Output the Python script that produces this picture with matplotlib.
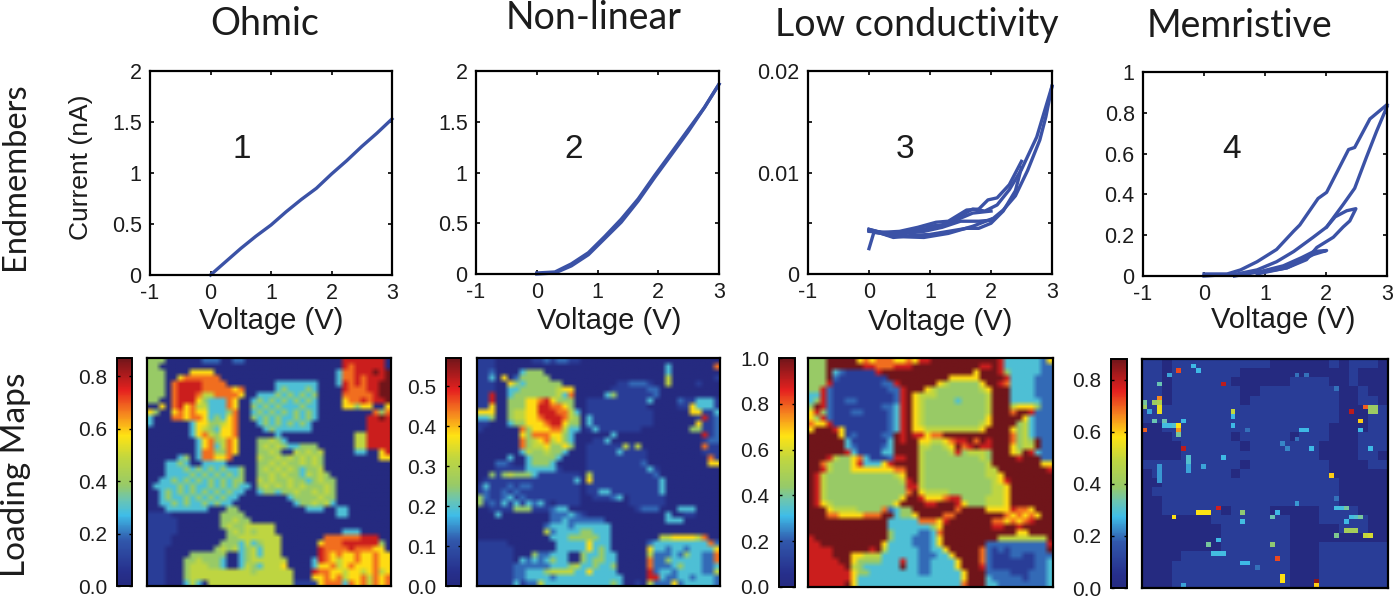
## Endmember I-V curves on top, loading maps below

import numpy as np
import matplotlib
matplotlib.use('Agg')
import matplotlib.pyplot as plt
from matplotlib.colors import LinearSegmentedColormap

W, H = 1400, 601

titles = ['Ohmic', 'Non-linear', 'Low conductivity', 'Memristive']
curve_numbers = ['1', '2', '3', '4']
y_limits = [2, 2, 0.02, 1]
y_ticks = [[0, 0.5, 1, 1.5, 2], [0, 0.5, 1, 1.5, 2], [0, 0.01, 0.02], [0, 0.2, 0.4, 0.6, 0.8, 1]]
y_tick_labels = [['0', '0.5', '1', '1.5', '2'], ['0', '0.5', '1', '1.5', '2'], ['0', '0.01', '0.02'],
                 ['0', '0.2', '0.4', '0.6', '0.8', '1']]

## I-V sweeps, each entry is one strand (voltage, current)

ohmic = [([0, 0.25, 0.5, 0.75, 1, 1.25, 1.5, 1.75, 2, 2.25, 2.5, 2.75, 3],
          [0, 0.13, 0.26, 0.38, 0.49, 0.62, 0.74, 0.85, 0.99, 1.12, 1.26, 1.39, 1.53])]

nonlinear = [([0, 0.3, 0.57, 0.85, 1.12, 1.39, 1.67, 1.94, 2.21, 2.49, 2.76, 3],
              [0.01, 0.02, 0.10, 0.21, 0.37, 0.54, 0.74, 0.97, 1.19, 1.42, 1.64, 1.87]),
             ([3, 2.76, 2.49, 2.21, 1.94, 1.67, 1.39, 1.12, 0.85, 0.57, 0.3, 0],
              [1.87, 1.64, 1.40, 1.17, 0.95, 0.72, 0.51, 0.35, 0.19, 0.08, 0.01, 0.0])]

lowcond = [([0, 0.08, 0.2, 0.4, 0.7, 1, 1.3, 1.6, 1.8, 2, 2.2, 2.4, 2.5],
            [0.0025, 0.0041, 0.0040, 0.0036, 0.0038, 0.0039, 0.0042, 0.0045, 0.0045, 0.0050, 0.0062, 0.0082, 0.0105]),
           ([2.5, 2.3, 2.1, 1.95, 1.8, 1.6, 1.3, 1.1, 0.8, 0.5, 0.2, 0],
            [0.0111, 0.0088, 0.0075, 0.0073, 0.0064, 0.0063, 0.0052, 0.0051, 0.0046, 0.0042, 0.0041, 0.0044]),
           ([0, 0.3, 0.6, 0.9, 1.2, 1.5, 1.8, 2, 2.2, 2.4, 2.6, 2.8, 2.9, 3],
            [0.0044, 0.0039, 0.0040, 0.0042, 0.0046, 0.0052, 0.0052, 0.0053, 0.0063, 0.0077, 0.0102, 0.0132, 0.0155, 0.0185]),
           ([3, 2.9, 2.75, 2.5, 2.3, 2.1, 1.9, 1.7, 1.4, 1.2, 0.9, 0.6, 0.3, 0],
            [0.0185, 0.0165, 0.0135, 0.0103, 0.0083, 0.0068, 0.0062, 0.0064, 0.0054, 0.0048, 0.0047, 0.0041, 0.0040, 0.0043]),
           ([0, 0.4, 0.9, 1.3, 1.7, 2],
            [0.0043, 0.0037, 0.0036, 0.0040, 0.0047, 0.0054]),
           ([2, 1.7, 1.3, 0.9, 0.5, 0],
            [0.0062, 0.0060, 0.0050, 0.0044, 0.0040, 0.0042])]

memristive = [([0, 0.38, 0.6, 0.87, 1.19, 1.47, 1.57, 1.87, 2.01, 2.37, 2.47, 2.72, 3],
               [0.01, 0.01, 0.03, 0.07, 0.13, 0.22, 0.25, 0.38, 0.41, 0.62, 0.63, 0.77, 0.84]),
              ([3, 2.83, 2.66, 2.47, 2.28, 2.01, 1.79, 1.47, 1.19, 0.87, 0.54, 0],
               [0.83, 0.71, 0.58, 0.43, 0.35, 0.24, 0.19, 0.12, 0.07, 0.03, 0.01, 0.0]),
              ([0.87, 1.36, 1.68, 1.85, 2.12, 2.28, 2.39, 2.49, 2.34, 2.15, 2.01],
               [0.01, 0.04, 0.08, 0.14, 0.19, 0.24, 0.27, 0.33, 0.32, 0.29, 0.24]),
              ([0.98, 1.36, 1.63, 1.79, 2.01, 1.8, 1.6, 1.3, 0.9, 0.5],
               [0.02, 0.04, 0.08, 0.105, 0.125, 0.12, 0.09, 0.05, 0.02, 0.0])]

curves = [ohmic, nonlinear, lowcond, memristive]

## Loading maps, 40 x 40 cells, one digit per cell (digit / 9 * top of the colour scale)

map1 = """
4440000002 2200220000 0000000000 0088888880
4400000000 0000000000 0000000000 0087888880
4440000666 6000000000 0000000000 0377888989
4440067777 7700000000 0000000000 0377878889
4440788887 7770000000 0333333300 0387878899
4440788887 7777670000 0343334300 0087778899
4440788875 5777760033 3434343400 0077777899
4400788864 3337600343 4343434300 0067787889
0060786755 3337600434 3433343300 0066466006
6400676766 3334700343 4343434300 0000000747
3000776776 3436700434 3433434300 0000008898
3000000366 4456700034 3434343000 0000008888
0000000365 4366700003 4333333000 0000008888
0000000367 5466700000 0300000000 0000558888
0000000036 7457600044 5430000000 0000558888
0000000036 7357600045 4543344400 0000558888
0000000037 7447600044 5400545450 0000330068
0000034037 7667000054 4545454540 0000000066
0003343003 3330000044 5454454540 0000000000
0003334343 4343340045 4545434450 0000000000
0003333434 3434340044 5454435454 0000000000
0033434343 4343440054 5445443454 4000000000
0333343433 4343433045 4545454445 4000000000
0034343434 3434330034 4344544545 4000000000
0034334343 4343300000 0003444454 4000000000
0033434334 3433000000 0000344545 3000000000
0003333333 0004400000 0000003330 0330000000
1111000000 0044440000 0000000000 0330000000
1111100000 0044544000 0000000000 0000000000
1111100000 0045445555 5000000000 0000000000
1111100000 0004545455 5000000000 0033300000
1111000000 0004455555 5500000007 7777788800
1111000000 0044435345 5500000067 7788888840
1110000000 0454534535 5500000087 7778777660
1110000444 4440034535 5500000087 6766766766
1110004454 4430034555 5550000387 6566766766
1110004555 4430035435 5560000366 7567666766
1110004555 5555555455 5555000877 6656656756
1110004555 5555555555 5555000667 6756675767
1110003530 5555555555 5555111167 7737675767
"""

map2 = """
1110000001 1212211000 0000000000 0000000000
1110000000 0000000000 0000000000 0300000007
1120000344 4000000000 0000000000 0300000000
1130602444 4400000000 0000000000 0500000001
1110064344 4444000000 0001122210 0500001000
1110033444 4445660000 0011111122 0000000000
1180034444 4445370000 0341111112 0000000000
1180044466 7864440011 1111111130 0002113331
1160044466 8877640011 1111111100 0001163331
6660045566 8887753011 1111111110 0000066113
3340045566 7888754031 1111111110 0000001812
1100034466 6788644031 1111111110 0000006112
1000000746 6677533013 1111111000 0000044112
0000000647 7766430000 0030000000 0000000812
0000000745 6756430001 1300000000 0000000122
0000000745 5644640011 1111515000 0000000711
0000000354 4544300011 1113111100 0000000111
0000030034 4443000011 1111111100 0000000071
0002210034 4430000011 1111111200 0000000066
0001111133 3331000011 1111111131 0000000000
0041454443 1111111051 1111111112 0000000000
0111111111 1111113061 1111111111 3000000000
1311121221 1111111011 1111111111 3000000000
1211212111 1111111011 3311111111 3000000000
4211231211 1111111001 1123011111 1000000000
4121313132 3101111000 0000011111 1000000000
0011114441 1123300000 0000001222 0003330000
0003000000 0022232100 0000000000 0300110000
0000000000 0022322222 2000000000 0333000000
0000000000 0233323333 3300000000 0000000000
0000000000 0523333443 3300000000 0000000000
0000000000 0033344444 3300000000 5566665700
1111100000 0003333363 3300000023 3333333372
1111110000 0003333363 4300000063 3233233336
1111110004 2233300433 4330000052 2232433227
1111110323 2343300434 4330000072 2433333227
1111112222 2233345334 3340000072 2234333223
1111112233 3455553363 3330000082 3323333225
1111112233 3323333333 3333000088 3223323332
1111113122 5333333333 3343001052 2262333332
"""

map3 = """
4449999967 6777667688 9999999999 9833333326
4449999998 8777888999 9999999988 9833333322
4449321111 1899999999 9999999699 9843333322
4449211111 1119999999 9996666699 9983333222
4448111111 1122899999 9654444469 9873333222
4482111111 1112289996 5444444456 9993333222
3382111111 1111289655 5444444445 9993333222
3482112211 1111289654 4444344445 9993333322
4982111111 1122389654 4444444445 9995666422
6842111221 1112389654 4444444445 9997998222
6482111111 1112389654 4444444446 9999963222
7668111111 1112389654 4444444456 9999453222
6999861111 1112389665 5555555569 9996453222
9999961211 1122989886 7799999999 9997453222
9999993111 1113989966 5567889798 9997454922
9999993211 1123999955 4456978988 9996455922
9999998311 1133999954 4445845554 9996598322
9998544673 1112889954 4444444454 9999899922
9975444683 3368999954 4444444445 9999999966
9985444666 6666779954 4444444445 5999999998
9854444444 4444569954 4444444445 5699999999
9854444444 4444458954 4444444444 5689999999
9854444444 4444448854 4444444444 5569999999
9854444444 4444447965 5554444444 5569999999
9854444444 4444469986 6678844445 5569999999
9865444444 4444699998 8999864445 5569999999
9996555544 4472344999 9999799996 6668776999
9997766667 7799344699 9977999999 9976767699
9999999999 9993333377 7689999999 7767678999
9999999999 9993333333 4699999999 8899899999
9999999999 9994333322 3799999999 9999669999
8999999999 9994333222 3699999999 9555555559
8899999999 9963333222 3699999992 2222222228
8888999999 8953333322 3369999972 1212222229
8888999665 5533333322 2336999972 1112211222
8888899644 4433383322 3333699972 1111111223
8888889543 3333393322 3333699982 1111111223
8888888644 3333333322 3333369992 2221112223
8888888633 3333333333 3333369993 2222212223
8888889633 3333333333 3333379993 3222222223
"""

## Fourth map: faint background on a 25 x 25 grid, sharp spots on the 50 x 50 grid

map4_base = """
11011 11111 11100 00001 01110
11011 11111 00000 00000 01000
11011 11110 00000 11110 01000
11011 11111 00111 11111 00100
11011 11111 01111 11111 00110
11111 11111 11111 11111 00011
11111 11111 11111 11111 00011
00111 11111 11111 11110 00011
00011 11110 11111 01110 00111
00001 11111 01111 11100 00111
00001 11111 11111 11100 00110
11111 11111 01111 11110 00011
01111 11110 11111 11110 00000
00111 11111 11111 11111 00000
01111 11111 11111 11111 00000
00111 11111 11111 11111 00000
00111 11101 11100 00011 11000
00000 00111 11111 00011 11100
00000 00011 11111 00000 11100
00000 00011 11111 00000 00000
00000 00011 11111 00011 11111
00001 11111 11111 00011 11111
00011 11111 11111 00011 11111
00011 11111 11111 00011 11111
00011 11111 11111 00011 11111
"""

map4_spots = [(2, 7, 0.72), (1, 10, 0.27), (2, 11, 0.27), (3, 5, 0.25), (5, 3, 0.33), (5, 16, 0.8),
              (8, 3, 0.66), (9, 0, 0.35), (10, 0, 0.4), (9, 2, 0.4), (9, 3, 0.45), (10, 3, 0.55),
              (11, 3, 0.55), (11, 18, 0.5), (12, 18, 0.27), (14, 18, 0.27), (11, 1, 0.25), (13, 2, 0.33),
              (13, 4, 0.33), (14, 4, 0.28), (14, 5, 0.28), (14, 6, 0.3), (14, 7, 0.58), (13, 8, 0.27),
              (15, 7, 0.65), (16, 7, 0.35), (15, 0, 0.7), (19, 8, 0.8), (21, 9, 0.3), (22, 9, 0.3),
              (23, 9, 0.25), (24, 9, 0.25), (21, 16, 0.27), (23, 12, 0.25), (23, 3, 0.24), (24, 3, 0.24),
              (25, 3, 0.24), (26, 3, 0.24), (25, 38, 0.6), (34, 6, 0.58), (33, 11, 0.58), (33, 12, 0.58),
              (33, 13, 0.58), (32, 15, 0.78), (33, 20, 0.38), (35, 20, 0.28), (34, 26, 0.33), (33, 27, 0.27),
              (31, 31, 0.24), (32, 39, 0.28), (32, 40, 0.28), (32, 41, 0.35), (35, 41, 0.27), (34, 42, 0.28),
              (34, 43, 0.3), (34, 44, 0.35), (38, 39, 0.36), (37, 41, 0.42), (37, 42, 0.42), (37, 43, 0.42),
              (38, 45, 0.5), (38, 46, 0.52), (30, 39, 0.2), (15, 32, 0.27), (15, 33, 0.27), (18, 28, 0.22),
              (19, 29, 0.22), (17, 31, 0.2), (19, 34, 0.27), (11, 42, 0.8), (10, 45, 0.7), (10, 46, 0.4),
              (10, 47, 0.4), (11, 46, 0.4), (11, 47, 0.4), (13, 44, 0.6), (15, 44, 0.27), (19, 46, 0.27),
              (6, 39, 0.2), (3, 31, 0.2), (3, 33, 0.2), (39, 15, 0.27), (40, 13, 0.35), (42, 14, 0.28),
              (42, 15, 0.28), (42, 16, 0.28), (44, 20, 0.27), (44, 21, 0.27), (45, 23, 0.2), (40, 26, 0.38),
              (43, 27, 0.72), (47, 28, 0.58), (48, 28, 0.58), (48, 35, 0.85), (49, 35, 0.6), (49, 8, 0.25),
              (15, 21, 0.2)]

map_tops = [0.87, 0.57, 1.0, 0.88]
cbar_ticks = [[0, 0.2, 0.4, 0.6, 0.8], [0, 0.1, 0.2, 0.3, 0.4, 0.5], [0, 0.2, 0.4, 0.6, 0.8, 1.0], [0, 0.2, 0.4, 0.6, 0.8]]
map_smoothing = ['bilinear', 'bilinear', 'bilinear', 'nearest']

## Pixel boxes (left, right, top, bottom) of every axes

curve_boxes = [(150, 392, 71, 275), (476, 719, 71, 274), (808, 1052, 71, 274), (1143, 1387, 72, 276)]
map_boxes = [(147, 391, 358, 586), (477, 720, 358, 586), (808, 1053, 358, 587), (1142, 1388, 359, 588)]
cbar_boxes = [(117, 132, 358, 586), (446, 461, 358, 586), (779, 795, 358, 587), (1111, 1127, 359, 588)]
number_pos = [(242, 150), (574, 150), (905, 150), (1232, 150)]
title_x = [265, 594, 917, 1240]
title_y = [24, 18, 25, 26]
voltage_x = [271, 609, 940, 1283]
voltage_y = [321, 321, 322, 320]

LINE = '#3b52a6'
TEXT = '#1c1c1c'
cmap = LinearSegmentedColormap.from_list('washed_jet', [
    (0.00, '#252a80'), (0.06, '#262f8c'), (0.20, '#3158ac'), (0.31, '#3fbde8'), (0.38, '#6cc5b0'),
    (0.44, '#97ca68'), (0.56, '#c0d640'), (0.66, '#ffe313'), (0.76, '#f5821f'), (0.86, '#e5211f'),
    (1.00, '#70151a')])

TICK_FONT = ['Liberation Sans', 'DejaVu Sans']
HEAD_FONT = ['Lato', 'DejaVu Sans']


def box_axes(fig, box):
    left, right, top, bottom = box
    return fig.add_axes([left / W, 1 - bottom / H, (right - left) / W, (bottom - top) / H])


def read_digits(text, size, top):
    rows = [r.replace(' ', '').ljust(size, '0')[:size] for r in text.strip().splitlines()]
    return np.array([[int(c) for c in r] for r in rows]) / 9 * top


fig = plt.figure(figsize=(W / 100, H / 100), dpi=100)

## Top row

for i in range(4):
    ax = box_axes(fig, curve_boxes[i])
    for v, c in curves[i]:
        ax.plot(v, c, color=LINE, lw=2.4, solid_joinstyle='round', clip_on=False)
    ax.set_xlim(-1, 3)
    ax.set_ylim(0, y_limits[i])
    ax.set_xticks([-1, 0, 1, 2, 3])
    ax.set_xticklabels(['-1', '0', '1', '2', '3'], fontsize=15.5, family=TICK_FONT, color=TEXT)
    ax.set_yticks(y_ticks[i])
    ax.set_yticklabels(y_tick_labels[i], fontsize=15.5, family=TICK_FONT, color=TEXT)
    if i == 2:
        ax.set_yticks([0.005, 0.015], minor=True)
        ax.tick_params(which='minor', direction='in', top=False, right=True, length=3, width=1.2)
    ax.tick_params(direction='in', top=True, right=True, length=3, width=1.2, pad=6)
    for s in ax.spines.values():
        s.set_linewidth(1.6)
    fig.text(voltage_x[i] / W, 1 - voltage_y[i] / H, 'Voltage (V)', fontsize=21, family=TICK_FONT, color=TEXT,
             ha='center', va='center')
    x, y = number_pos[i]
    fig.text(x / W, 1 - y / H, curve_numbers[i], fontsize=24, family=TICK_FONT, color=TEXT, ha='center', va='center')
    fig.text(title_x[i] / W, 1 - title_y[i] / H, titles[i], fontsize=27, family=HEAD_FONT, color=TEXT,
             ha='center', va='center')

fig.text(81 / W, 1 - 167 / H, 'Current (nA)', rotation=90, fontsize=19, family=TICK_FONT, color=TEXT, ha='center', va='center')

## Bottom row

map4 = np.repeat(np.repeat(read_digits(map4_base, 25, map_tops[3]), 2, axis=0), 2, axis=1)
for r, c, val in map4_spots:
    map4[r, c] = val
maps = [read_digits(map1, 40, map_tops[0]), read_digits(map2, 40, map_tops[1]),
        read_digits(map3, 40, map_tops[2]), map4]

for i in range(4):
    ax = box_axes(fig, map_boxes[i])
    im = ax.imshow(maps[i], cmap=cmap, vmin=0, vmax=map_tops[i], aspect='auto',
                   interpolation=map_smoothing[i], interpolation_stage='rgba')
    ax.set_xticks([])
    ax.set_yticks([])
    for s in ax.spines.values():
        s.set_linewidth(1.6)
    cax = box_axes(fig, cbar_boxes[i])
    cb = fig.colorbar(im, cax=cax)
    cb.set_ticks(cbar_ticks[i])
    cb.set_ticklabels(['%.1f' % t for t in cbar_ticks[i]])
    cax.yaxis.set_ticks_position('both')
    cax.yaxis.set_label_position('left')
    cax.tick_params(direction='in', labelleft=True, labelright=False, length=2, width=1, pad=7)
    for lab in cax.get_yticklabels():
        lab.set_fontsize(15)
        lab.set_family(TICK_FONT)
        lab.set_color(TEXT)
    cb.outline.set_linewidth(1.4)

fig.text(15 / W, 1 - 176 / H, 'Endmembers', rotation=90, fontsize=23.5, family=HEAD_FONT, color=TEXT, ha='center', va='center')
fig.text(16 / W, 1 - 475 / H, 'Loading Maps', rotation=90, fontsize=24, family=HEAD_FONT, color=TEXT, ha='center', va='center')

fig.savefig('out.png', dpi=100)
